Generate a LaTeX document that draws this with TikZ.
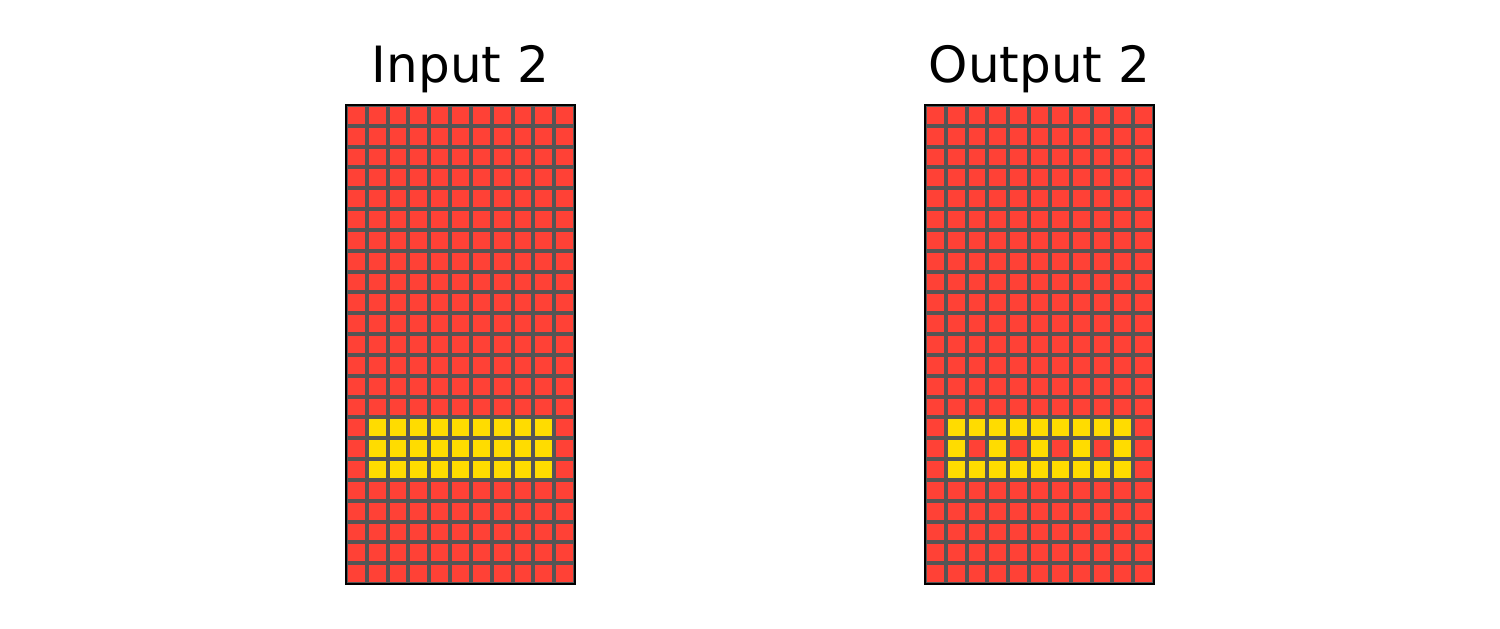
\documentclass[tikz,border=0pt]{standalone}
\usepackage{fontspec}
\setmainfont{DejaVu Sans}
\definecolor{cred}{HTML}{FF4136}
\definecolor{cyel}{HTML}{FFDC00}
\definecolor{cgrid}{HTML}{555555}
\begin{document}
\begin{tikzpicture}[x=1pt,y=1pt,
  titletext/.style={font=\fontsize{50}{60}\selectfont, anchor=base, inner sep=0pt},
  border/.style={draw=black, line width=2.8pt}]
\useasboundingbox (0,0) rectangle (1500,629);
\def\cw{20.818}
\def\ch{20.826}
\def\gap{2.0}
% grid 1 (input)
\fill[cgrid] (346,45) rectangle (575,524);
\foreach \r in {0,...,22} {
  \foreach \c in {0,...,10} {
    \pgfmathtruncatemacro\isy{and(and(\r>14,\r<18),and(\c>0,\c<10))}
    \ifnum\isy=1 \def\cc{cyel}\else\def\cc{cred}\fi
    \fill[\cc] ({346+\c*\cw+\gap},{524-(\r+1)*\ch+\gap}) rectangle ({346+(\c+1)*\cw-\gap},{524-\r*\ch-\gap});
  }
}
\draw[border] (346,45) rectangle (575,524);
% grid 2 (output)
\fill[cgrid] (925,45) rectangle (1154,524);
\foreach \r in {0,...,22} {
  \foreach \c in {0,...,10} {
    \pgfmathtruncatemacro\isy{and(and(\r>14,\r<18),and(\c>0,\c<10))}
    \pgfmathtruncatemacro\iso{and(\isy,not(and(\r==16,mod(\c,2)==0)))}
    \ifnum\iso=1 \def\cc{cyel}\else\def\cc{cred}\fi
    \fill[\cc] ({925+\c*\cw+\gap},{524-(\r+1)*\ch+\gap}) rectangle ({925+(\c+1)*\cw-\gap},{524-\r*\ch-\gap});
  }
}
\draw[border] (925,45) rectangle (1154,524);
\node[titletext] (t1) at (460.5,546) {Input 2};
\node[titletext] (t2) at (1039.5,546) {Output 2};
\end{tikzpicture}
\end{document}
